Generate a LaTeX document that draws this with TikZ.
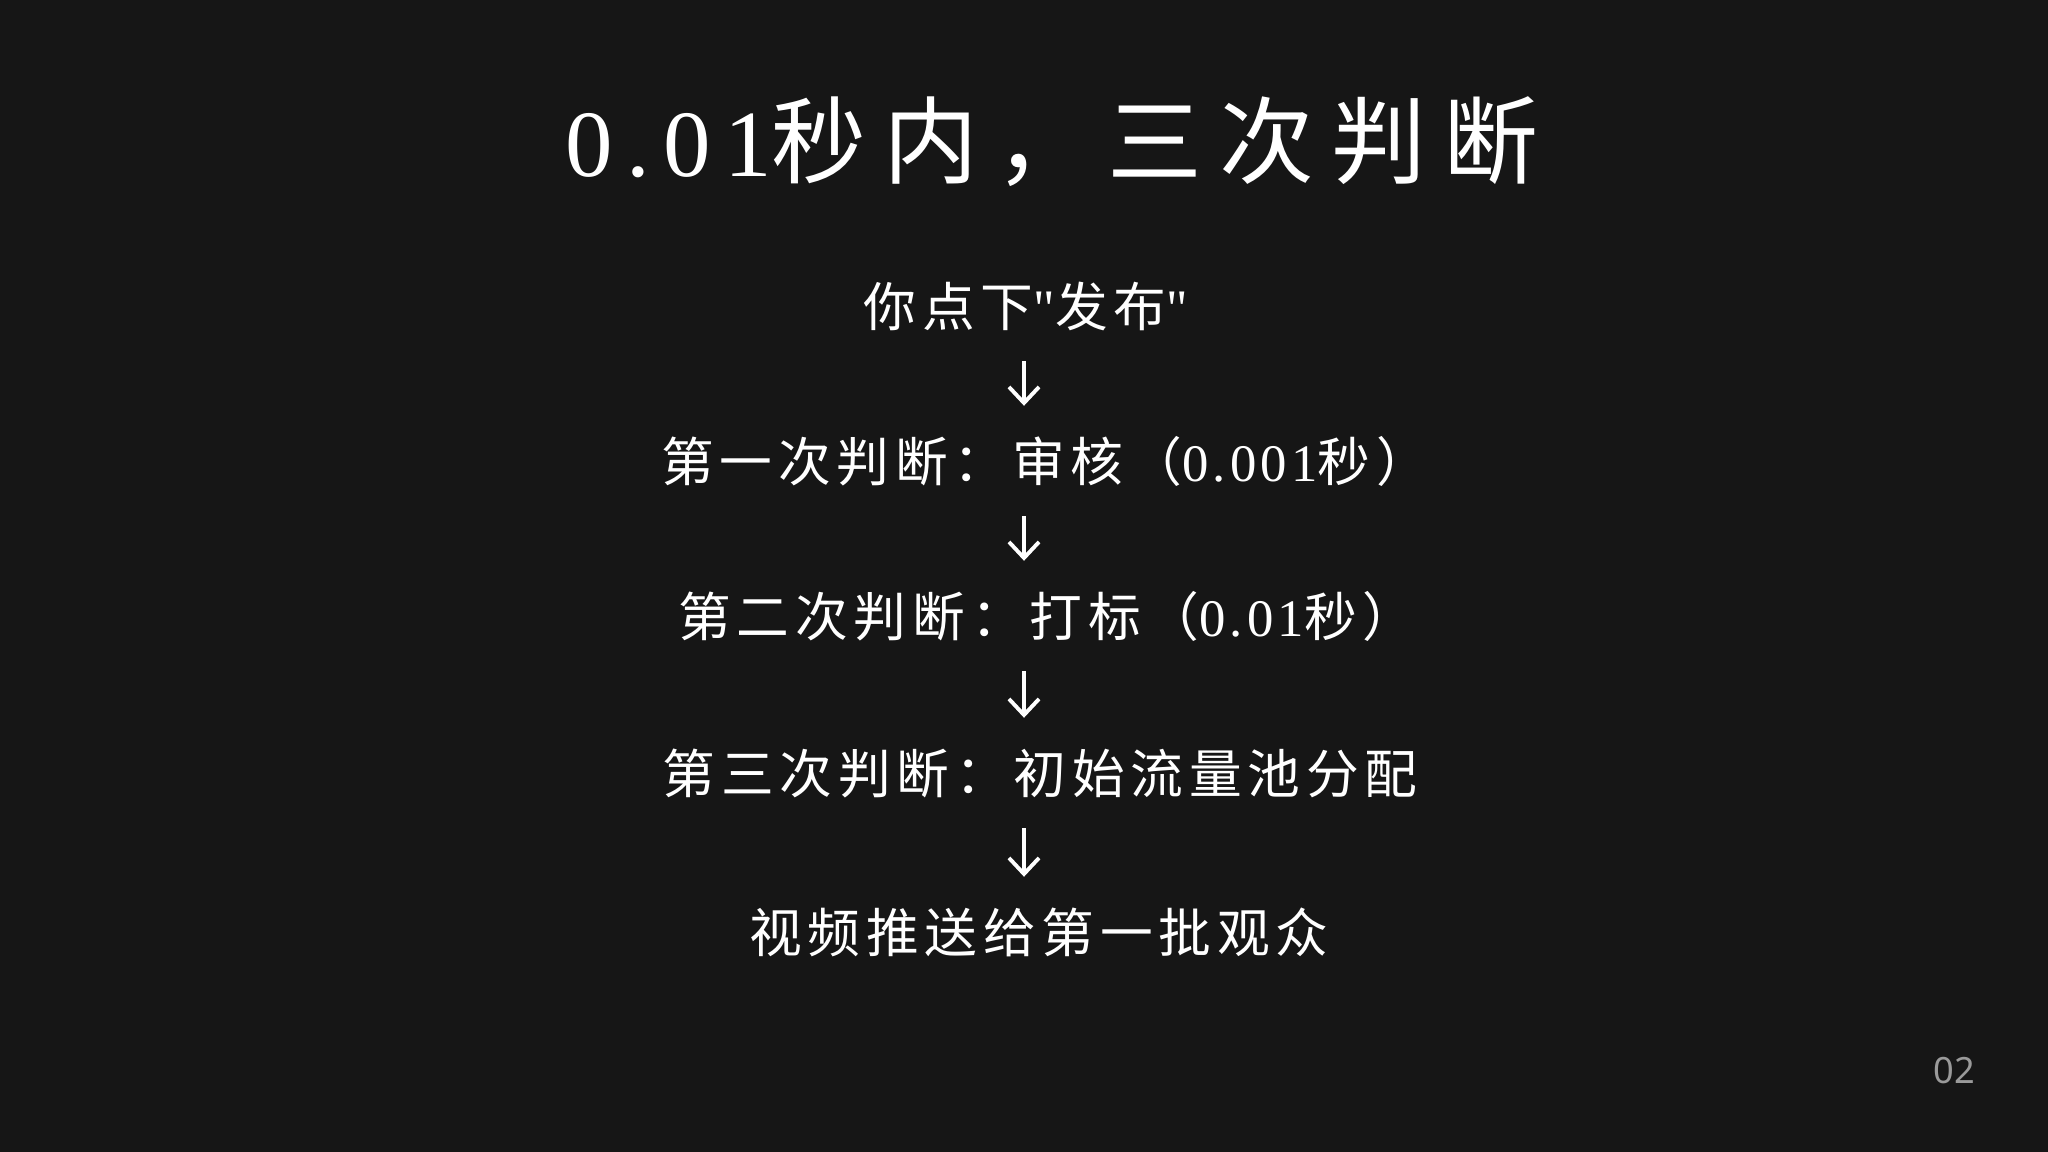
\documentclass[tikz,border=0pt]{standalone}
\usepackage{fontspec}
\setmainfont{Liberation Serif}
\newfontfamily\cjk{Noto Sans CJK SC}[LetterSpace=11]
\newfontfamily\cjktitle{Noto Sans CJK SC}[LetterSpace=18]
\newfontfamily\lat{Liberation Serif}[LetterSpace=8]
\newfontfamily\pagefont{Noto Sans}
\usetikzlibrary{arrows.meta}
\definecolor{slidebg}{HTML}{161616}
\definecolor{pagegray}{HTML}{9A9A9A}
\begin{document}
\begin{tikzpicture}[
    line/.style={text=white, inner sep=0, text height=0.47cm, text depth=0.06cm, font=\cjk\fontsize{15}{18}\selectfont},
    flow/.style={draw=white, line width=1.1pt, -{Straight Barb[length=0.16cm, width=0.3cm]}, shorten <=0.28cm, shorten >=0.28cm}]
    \fill[slidebg] (0, 0) rectangle (20.48, 11.52);
    \useasboundingbox (0, 0) rectangle (20.48, 11.52);
    % title
    \node[text=white, font=\cjktitle\fontsize{27}{30}\selectfont] (title) at (10.52, 10.10) {{\lat\addfontfeature{LetterSpace=14}0.01}秒内，三次判断};
    % steps
    \node[line] (publish) at (10.26, 8.46) {你点下{\lat"}发布{\lat"}};
    \node[line] (review) at (10.45, 6.91) {第一次判断：审核（{\lat 0.001}秒）};
    \node[line] (tagging) at (10.47, 5.36) {第二次判断：打标（{\lat 0.01}秒）};
    \node[line] (pool) at (10.40, 3.79) {第三次判断：初始流量池分配};
    \node[line] (push) at (10.39, 2.20) {视频推送给第一批观众};
    \coordinate (axis) at (10.24, 0);
    \foreach \a/\b in {publish/review, review/tagging, tagging/pool, pool/push}
        \draw[flow] (\a.south -| axis) -- (\b.north -| axis);
    \node[text=pagegray, font=\pagefont\fontsize{10.3}{12}\selectfont] (page) at (19.54, 0.81) {02};
\end{tikzpicture}
\end{document}
